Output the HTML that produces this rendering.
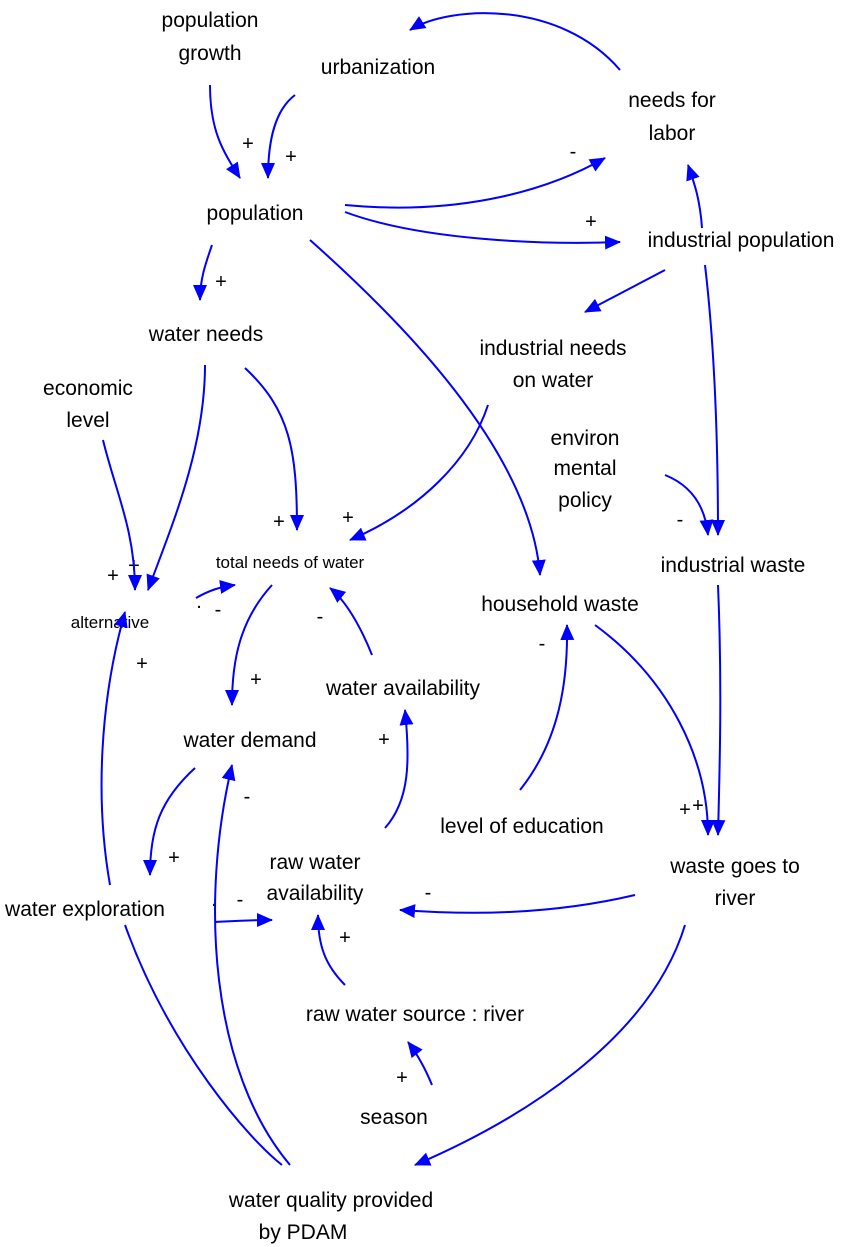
<!DOCTYPE html>
<html><head><meta charset="utf-8"><style>
html,body{margin:0;padding:0;background:#fff;}
svg{display:block;}
text{font-family:"Liberation Sans",Arial,sans-serif;font-size:21px;fill:#000;text-anchor:middle;}
.s{font-size:17px;}
.sg{font-size:20px;}
path{fill:none;stroke:#0000ff;stroke-width:2;}
</style></head><body>
<svg width="851" height="1247" viewBox="0 0 851 1247">
<defs><marker id="a" markerWidth="16" markerHeight="14" refX="15" refY="7" orient="auto" markerUnits="userSpaceOnUse"><path d="M0,0 L16,7 L0,14 Z" style="fill:#0000ff;stroke:none"/></marker></defs>
<g>
<text x="210" y="27">population</text><text x="210" y="60">growth</text>
<text x="378" y="74">urbanization</text>
<text x="672" y="107">needs for</text><text x="672" y="140">labor</text>
<text x="255" y="220">population</text>
<text x="741" y="247">industrial population</text>
<text x="206" y="341">water needs</text>
<text x="553" y="355">industrial needs</text><text x="553" y="387">on water</text>
<text x="88" y="395">economic</text><text x="88" y="427">level</text>
<text x="585" y="445">environ</text><text x="585" y="475">mental</text><text x="585" y="507">policy</text>
<text class="s" x="290" y="568">total needs of water</text>
<text x="733" y="572">industrial waste</text>
<text class="s" x="110" y="628">alternative</text>
<text x="560" y="611">household waste</text>
<text x="403" y="695">water availability</text>
<text x="250" y="747">water demand</text>
<text x="522" y="833">level of education</text>
<text x="735" y="873">waste goes to</text><text x="735" y="905">river</text>
<text x="315" y="869">raw water</text><text x="315" y="900">availability</text>
<text x="85" y="916">water exploration</text>
<text x="415" y="1021">raw water source : river</text>
<text x="394" y="1124">season</text>
<text x="331" y="1207">water quality provided</text><text x="303" y="1239">by PDAM</text>
</g>
<g>
<text class="sg" x="248" y="150">+</text><text class="sg" x="291" y="163">+</text>
<text class="sg" x="573" y="158">-</text><text class="sg" x="591" y="228">+</text>
<text class="sg" x="221" y="288">+</text>
<text class="sg" x="279" y="528">+</text><text class="sg" x="348" y="524">+</text>
<text class="sg" x="134" y="572">+</text><text class="sg" x="113" y="582">+</text>
<text class="sg" x="680" y="526">-</text>
<text class="sg" x="218" y="616">-</text><text class="sg" x="199" y="608">.</text>
<text class="sg" x="320" y="623">-</text>
<text class="sg" x="256" y="686">+</text>
<text class="sg" x="542" y="650">-</text>
<text class="sg" x="142" y="670">+</text>
<text class="sg" x="384" y="746">+</text>
<text class="sg" x="247" y="803">-</text>
<text class="sg" x="685" y="816">+</text><text class="sg" x="698" y="812">+</text>
<text class="sg" x="174" y="864">+</text>
<text class="sg" x="240" y="906">-</text><text class="sg" x="214" y="906">.</text>
<text class="sg" x="428" y="899">-</text>
<text class="sg" x="345" y="944">+</text>
<text class="sg" x="402" y="1084">+</text>
</g>
<g marker-end="url(#a)">
<path d="M210,85 C210,130 222,150 240,178"/>
<path d="M295,95 C275,110 268,140 268,178"/>
<path d="M620,70 C560,0 450,5 410,30"/>
<path d="M345,205 C450,215 540,195 605,158"/>
<path d="M345,212 C420,240 540,245 620,242"/>
<path d="M702,228 C700,200 695,185 688,165"/>
<path d="M665,270 L585,312"/>
<path d="M705,265 C715,350 718,450 718,535"/>
<path d="M310,240 C400,320 530,450 540,575"/>
<path d="M212,245 C205,265 200,280 200,300"/>
<path d="M205,365 C205,450 170,530 148,590"/>
<path d="M245,368 C290,410 297,450 297,530"/>
<path d="M103,440 C115,490 135,530 135,590"/>
<path d="M488,405 C470,460 420,510 350,540"/>
<path d="M665,475 C690,485 705,505 708,535"/>
<path d="M196,598 C210,590 220,587 235,585"/>
<path d="M272,585 C240,620 232,660 232,705"/>
<path d="M372,655 C360,625 345,600 330,588"/>
<path d="M520,790 C560,740 568,680 567,625"/>
<path d="M595,625 C670,680 708,760 708,835"/>
<path d="M718,585 C722,680 720,760 718,835"/>
<path d="M635,895 C550,915 470,915 400,910"/>
<path d="M685,925 C650,1040 520,1120 415,1165"/>
<path d="M385,828 C410,800 410,760 405,710"/>
<path d="M195,768 C160,800 150,830 150,875"/>
<path d="M215,922 C235,921 250,920 272,920"/>
<path d="M110,885 C95,800 100,700 125,612"/>
<path d="M345,985 C325,965 318,945 318,915"/>
<path d="M432,1085 C425,1068 418,1055 408,1042"/>
<path d="M290,1165 C210,1070 200,900 232,765"/>
</g>
<path d="M125,925 C170,1050 250,1140 282,1165"/>
</svg>
</body></html>
